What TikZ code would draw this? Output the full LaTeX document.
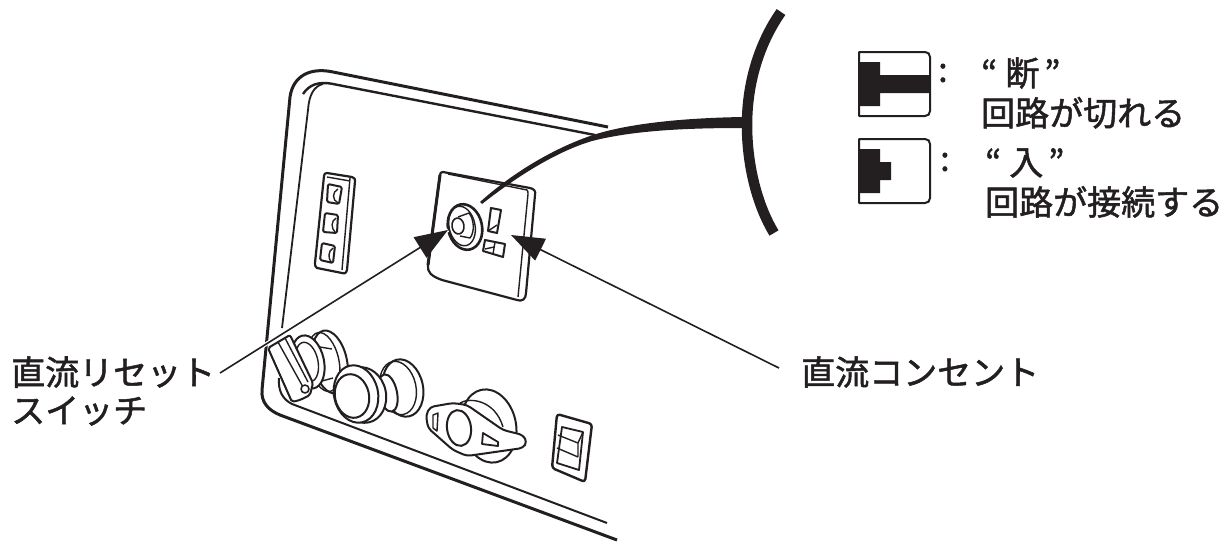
\documentclass[tikz,border=0pt]{standalone}
\usepackage{fontspec}
\usepackage{xcolor}
\usetikzlibrary{arrows.meta,calc,positioning}
\setmainfont[FakeBold=1.5]{Noto Sans CJK JP}
\definecolor{ink}{HTML}{231F20}
\tikzset{every picture/.style={x=1pt,y=-1pt}}
\tikzstyle{caption} =
  [ inner sep=0pt
  , anchor=west
  , align=left
  , text=ink
  , font=\fontsize{34}{40}\selectfont
  ]
\tikzstyle{rim} =
  [ draw=ink
  , line width=3pt
  , line join=round
  ]
\tikzstyle{part} =
  [ draw=ink
  , fill=white
  , line width=2pt
  , line join=round
  ]
\tikzstyle{fine} =
  [ draw=ink
  , line width=1.4pt
  , line join=round
  ]
\tikzstyle{pointer} =
  [ draw=ink
  , line width=1.6pt
  , -{Triangle[length=33pt,width=24pt]}
  , preaction={draw=white,line width=4pt,-}
  ]
\tikzstyle{solid_part} =
  [ fill=ink
  , draw=none
  ]
\def\OffText{“\hspace{8pt}断\hspace{5pt}”\\回路が切れる}
\def\OnText{“\hspace{8pt}入\hspace{5pt}”\\回路が接続する}
\begin{document}
\begin{tikzpicture}
    \useasboundingbox (0,0) rectangle (1230,541);

    \draw[rim] (608,127) -- (333,72) .. controls (310,67) and (293,76) .. (290,97) -- (262,390)
      .. controls (261,402) and (268,410) .. (280,415) -- (617,540);
    \draw[rim,line width=2.4pt] (595,135) -- (333,84) .. controls (318,81) and (309,85) .. (303,94);
    \draw[fine,line width=1.8pt] (323,84) .. controls (314,86) and (309,95) .. (308,110) -- (282,328);
    \draw[fine,line width=2pt] (279,378) .. controls (278,390) and (282,399) .. (292,404) -- (607,523);

    \draw[part,line width=2.2pt] (327,173) -- (352,177) .. controls (355,178) and (355,179) .. (355,181) -- (347,270)
      .. controls (346,273) and (345,274) .. (342,273) -- (317,268) .. controls (315,267) and (315,265) .. (315,263) -- (324,176)
      .. controls (324,174) and (325,173) .. (327,173) -- cycle;
    \draw[fine] (350,178) -- (342,270);
    \draw[fine] (327,177) -- (350,181);
    \draw[part,line width=2pt,rounded corners=1.5pt] (328,184) -- (342,187) -- (339,204) -- (327,202) -- cycle;
    \draw[part,line width=2pt,rounded corners=1.5pt] (325,213) -- (338,215) -- (337,233) -- (323,232) -- cycle;
    \draw[part,line width=2pt,rounded corners=1.5pt] (322,243) -- (335,246) -- (333,263) -- (320,260) -- cycle;
    \draw[fine] (338,189) .. controls (332,192) and (332,200) .. (338,203);
    \draw[fine] (336,218) .. controls (331,221) and (331,228) .. (335,232);
    \draw[fine] (333,248) .. controls (328,251) and (328,258) .. (331,262);

    \draw[part,line width=2.2pt] (443,172) -- (530,188) .. controls (534,189) and (536,191) .. (535,195) -- (526,293)
      .. controls (526,299) and (522,302) .. (517,300) -- (442,280) .. controls (431,276) and (427,272) .. (428,265)
      -- (440,175) .. controls (440,173) and (441,172) .. (443,172) -- cycle;
    \draw[fine,line width=3pt] (428,265) -- (440,175);
    \draw[fine] (448,174) -- (527,190) .. controls (528,191) and (528,192) .. (528,194) -- (518,297);

    \draw[part,line width=2.6pt,rotate around={12:(465,227)}] (465,227) ellipse [x radius=17,y radius=23];
    \draw[fine,rotate around={12:(462,226)}] (462,226) ellipse [x radius=13,y radius=20];
    \draw[fine] (458,217) -- (469,213) .. controls (474,219) and (475,232) .. (470,238) -- (460,236);
    \draw[part,line width=1.6pt,rotate around={8:(458,226)}] (458,226) ellipse [x radius=6,y radius=8];
    \draw[part] (491,208) -- (501,210) -- (497,233) -- (488,231) -- cycle;
    \draw[fine] (488,231) -- (497,225);
    \draw[part] (485,240) -- (505,244) -- (503,257) -- (483,251) -- cycle;
    \draw[fine] (495,242) -- (493,254) (485,249) -- (494,247);

    \draw[part,rotate around={12:(330,362)}] (330,362) ellipse [x radius=17,y radius=32];
    \draw[fine,rotate around={12:(324,362)}] (324,362) ellipse [x radius=15,y radius=30];
    \draw[part,rotate around={12:(308,362)}] (308,362) ellipse [x radius=16,y radius=27];
    \draw[fine,rotate around={12:(307,362)}] (307,362) ellipse [x radius=11,y radius=20];
    \draw[fine] (320,347) -- (332,349) (322,381) -- (333,378);
    \draw[part,rounded corners=2pt] (268,348) -- (290,335) -- (313,383) -- (310,395) -- (300,400) -- (292,402) -- cycle;
    \draw[fine] (278,342) -- (303,387) (285,338) -- (308,382);
    \draw[part,line width=1.6pt] (305,389) circle [radius=4];

    \draw[part,rotate around={12:(403,388)}] (403,388) ellipse [x radius=20,y radius=29];
    \draw[fine,rotate around={12:(398,388)}] (398,388) ellipse [x radius=18,y radius=27];
    \draw[part,rotate around={12:(388,393)}] (388,393) ellipse [x radius=9,y radius=19];
    \draw[part,rotate around={12:(363,395)}] (363,395) ellipse [x radius=23,y radius=28];
    \draw[part,rotate around={12:(356,394)}] (356,394) ellipse [x radius=22,y radius=29];
    \draw[part,rotate around={12:(352,396)}] (352,396) ellipse [x radius=17,y radius=22];

    \draw[part,rotate around={12:(489,426)}] (489,426) ellipse [x radius=27,y radius=37];
    \draw[fine] (460,403) .. controls (470,397) and (495,400) .. (503,427);
    \draw[part,rounded corners=4pt] (430,407) -- (453,403) -- (467,405) -- (503,430) -- (523,435) -- (527,442) -- (523,448)
      -- (467,456) -- (453,450) -- (428,428) -- (426,415) -- cycle;
    \draw[part,rotate around={8:(459,428)}] (459,428) ellipse [x radius=12,y radius=18];
    \draw[fine] (433,415) -- (438,413) -- (437,431) -- (433,428) -- cycle;
    \draw[fine,line width=1.8pt] (483,433) -- (498,442) -- (498,446) -- (482,444) -- cycle;

    \draw[part,line width=2.4pt,rounded corners=3pt] (557,414) -- (592,424) -- (585,482) -- (552,468) -- cycle;
    \draw[fine,line width=1.8pt] (562,427) -- (583,432) -- (579,470) -- (557,463) -- cycle;
    \draw[fine] (558,435) -- (578,443) -- (583,432) (557,448) -- (578,457) (578,443) -- (578,457);

    \fill[solid_part] (480,202) .. controls (510,175) and (550,150) .. (590,136) .. controls (625,124) and (680,118) .. (743,117) -- (743,128)
      .. controls (690,128) and (635,130) .. (592,141) .. controls (555,152) and (515,178) .. (482,204) -- cycle;
    \draw[ink,line width=10.5pt] (781,12) .. controls (758,45) and (747,85) .. (747,125) .. controls (747,165) and (757,205) .. (774,233);

    \draw[part] (859,52) -- (925,52) .. controls (928,52) and (930,54) .. (930,57) -- (930,111)
      .. controls (930,114) and (928,116) .. (925,116) -- (859,116) -- cycle;
    \fill[solid_part] (859,62) -- (880,62) -- (880,75) -- (930,75) -- (930,93) -- (880,93) -- (880,106) -- (859,106) -- cycle;
    \draw[part] (859,139) -- (925,139) .. controls (928,139) and (930,141) .. (930,144) -- (930,198)
      .. controls (930,201) and (928,203) .. (925,203) -- (859,203) -- cycle;
    \fill[solid_part] (859,149) -- (880,149) -- (880,162) -- (891,162) -- (891,180) -- (880,180) -- (880,193) -- (859,193) -- cycle;

    \node[caption] (colon_off) at (938,73) {:};
    \node[caption] (colon_on)  at (940,162) {:};
    \node[caption] (text_off)  at (981,93) {\OffText};
    \node[caption] (text_on)   at (985,183) {\OnText};

    \node[caption,font=\fontsize{34}{38}\selectfont] (label_reset)  at (11,391)  {直流リセット\\スイッチ};
    \node[caption] (label_outlet) at (801,372) {直流コンセント};
    \coordinate (reset_tail) at (220,373);
    \coordinate (outlet_tail) at (779,368);
    \coordinate (reset_tip)  at (448,230);
    \coordinate (outlet_tip) at (511,235);
    \draw[pointer] (reset_tail) -- (reset_tip);
    \draw[pointer] (outlet_tail) -- (outlet_tip);
  \end{tikzpicture}
\end{document}
